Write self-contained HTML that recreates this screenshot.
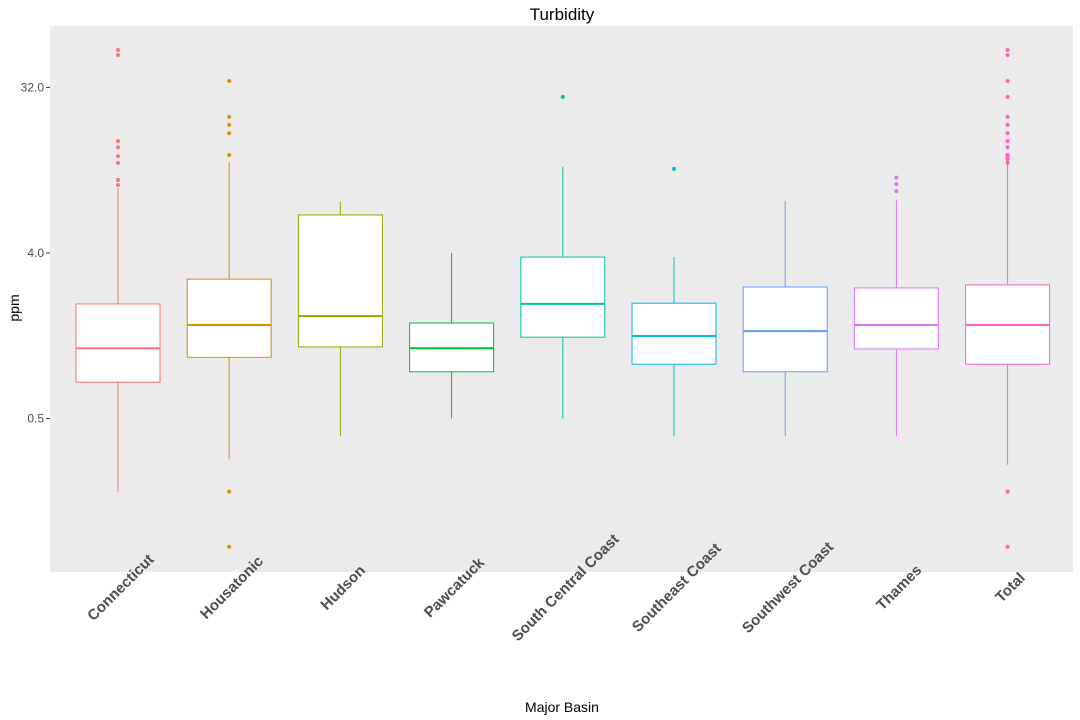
<!DOCTYPE html>
<html><head><meta charset="utf-8">
<style>
body{margin:0;background:#fff;}
svg{display:block;font-family:"Liberation Sans",Arial,sans-serif;}
</style></head>
<body>
<svg id="chart" width="1080" height="720"></svg>
<script>
const categories=["Connecticut","Housatonic","Hudson","Pawcatuck","South Central Coast","Southeast Coast","Southwest Coast","Thames","Total"];
const colors=["#F8766D","#D39200","#93AA00","#00BA38","#00C19F","#00B9E3","#619CFF","#DB72FB","#FF61C3"];
const whiskerLow=[0.2,0.30,0.4,0.5,0.5,0.4,0.4,0.4,0.28];
const q1=[0.79,1.08,1.23,0.90,1.39,0.99,0.90,1.2,0.99];
const medians=[1.21,1.62,1.81,1.21,2.11,1.41,1.50,1.62,1.62];
const q3=[2.11,2.88,6.45,1.66,3.8,2.13,2.61,2.58,2.68];
const whiskerHigh=[9.05,12.5,7.6,4.0,11.8,3.8,7.7,7.8,12.6];
const outliers=[[51.2,48,16.3,15.1,13.5,12.4,10,9.4],[34.7,22.1,20,18,13.7,0.2,0.1],[],[],[28.4],[11.5],[],[10.3,9.5,8.7],[51.2,48,34.7,28.4,22.1,20,18,16.3,15.1,13.7,13.5,13,12.4,0.2,0.1]];
const yTicks=[0.5,4,32];
const yTickLabels=["0.5","4.0","32.0"];

const NS="http://www.w3.org/2000/svg";
const svg=document.getElementById('chart');
const P={l:50,r:1073,t:26,b:572};
function y(v){return 253-55.2*Math.log2(v/4);}
function x(i){return 118+i*111.2;}
function mk(tag,attrs,parent){const e=document.createElementNS(NS,tag);for(const k in attrs)e.setAttribute(k,attrs[k]);(parent||svg).appendChild(e);return e;}

let bg=mk('rect',{x:P.l,y:P.t,width:P.r-P.l,height:P.b-P.t,fill:'#EBEBEB'});



let t=mk('text',{x:562,y:20,'text-anchor':'middle','font-size':17,fill:'#000'});t.textContent='Turbidity';



let yl=mk('text',{x:19,y:308,'text-anchor':'middle','font-size':14,transform:'rotate(-90 19 308)'});yl.textContent='ppm';



let xl=mk('text',{x:562,y:712,'text-anchor':'middle','font-size':14});xl.textContent='Major Basin';



yTicks.forEach((v,i)=>{
  let tk=mk('line',{x1:46,x2:50,y1:y(v),y2:y(v),stroke:'#333','stroke-width':1});
  
  
  let lb=mk('text',{x:44,y:y(v)+4,'text-anchor':'end','font-size':12,fill:'#4D4D4D'});lb.textContent=yTickLabels[i];
  
  
});

categories.forEach((c,i)=>{
  const cx=x(i),col=colors[i],w=42;
  const g=mk('g',{});
  
  
  mk('line',{x1:cx,x2:cx,y1:y(whiskerHigh[i]),y2:y(q3[i]),stroke:col,'stroke-width':1},g);
  mk('line',{x1:cx,x2:cx,y1:y(q1[i]),y2:y(whiskerLow[i]),stroke:col,'stroke-width':1},g);
  mk('rect',{x:cx-w,y:y(q3[i]),width:2*w,height:y(q1[i])-y(q3[i]),fill:'#fff',stroke:col,'stroke-width':1},g);
  mk('line',{x1:cx-w,x2:cx+w,y1:y(medians[i]),y2:y(medians[i]),stroke:col,'stroke-width':2},g);
  outliers[i].forEach(o=>mk('circle',{cx:cx,cy:y(o),r:2,fill:col},g));
  const lx=cx+6,ly=591;
  let lb=mk('text',{x:lx,y:ly,'text-anchor':'middle','font-size':15,'font-weight':'bold',fill:'#4D4D4D',transform:`rotate(-45 ${lx} ${ly})`});
  lb.textContent=c;
  
  
});
</script>
</body></html>
